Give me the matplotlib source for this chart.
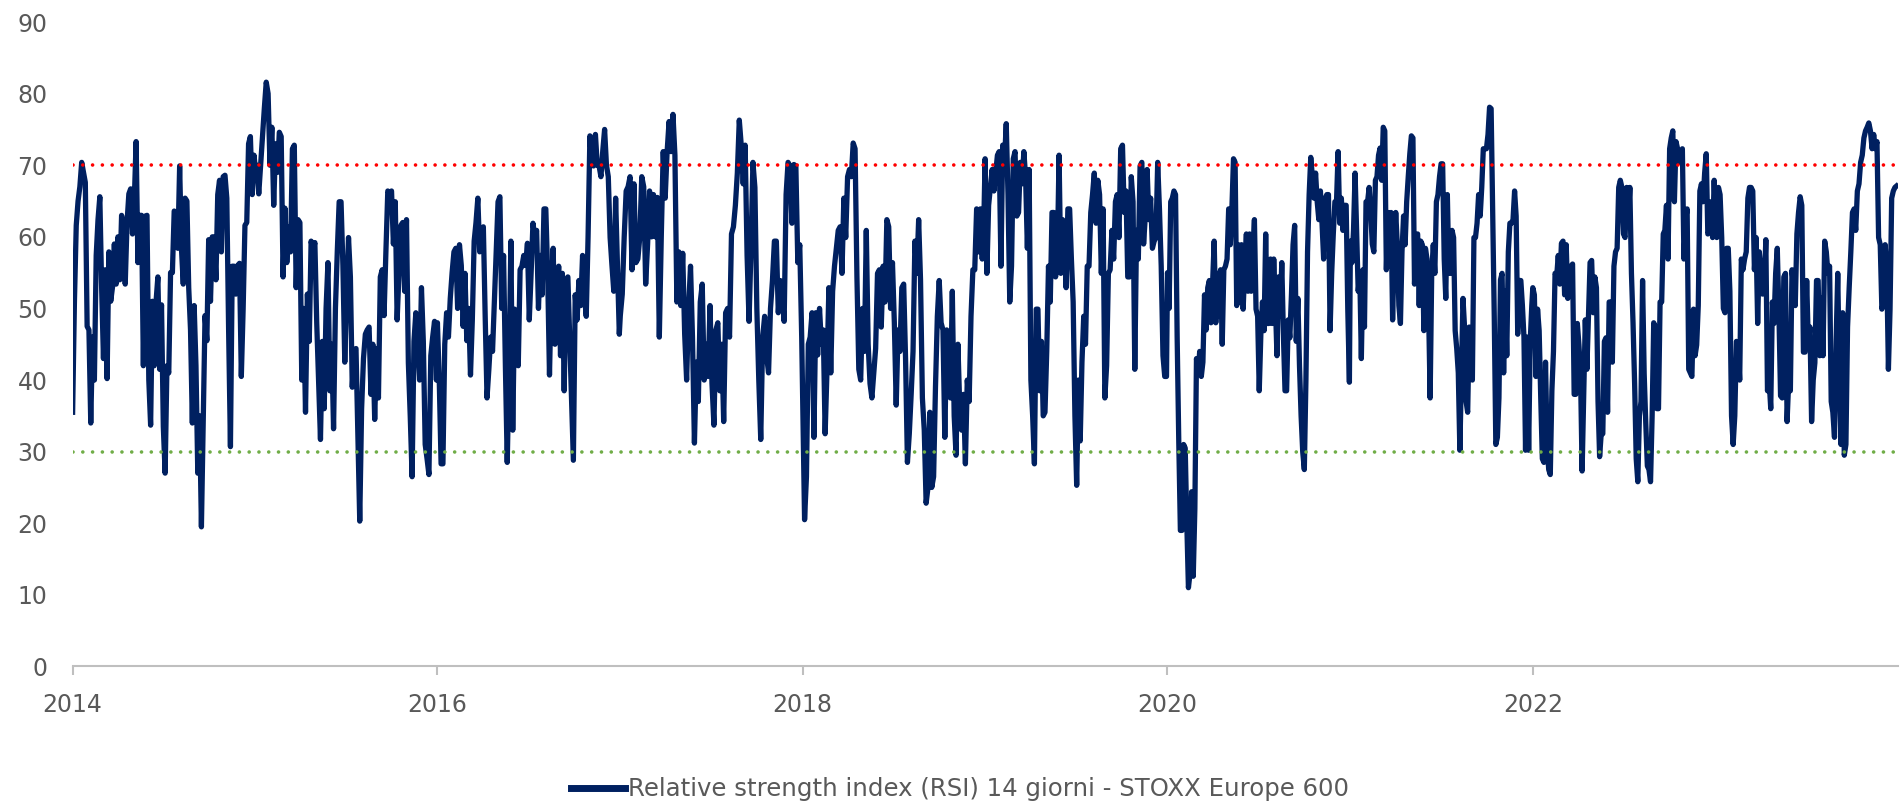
import numpy as np
import pandas as pd
import matplotlib
matplotlib.use('Agg')
import matplotlib.pyplot as plt
import matplotlib.dates as mdates

# RSI 14 giorni, STOXX Europe 600 - one list per calendar year
rsi_2014 = [35.5, 51, 61.6, 65, 67, 70.4, 69, 67.6, 47.5, 47, 34, 46, 40, 57.4, 62.4, 65.6, 52.9, 43, 55.4, 40.2,
            57.9, 51, 53, 59, 53.4, 60, 54, 63, 61.2, 53.4, 62, 66, 66.7, 60.4, 65, 73.3, 56.4, 63, 63, 42,
            62.9, 63, 40, 33.7, 51, 42, 51, 54.4, 41.5, 50.5, 33.5, 27, 42, 41, 55, 55, 63.6, 63.4, 58.4, 69.9,
            58.4, 53.4, 65.4, 65, 52.9, 47, 34, 50.4, 42, 27, 35, 19.5, 34, 49, 45.5, 59.6, 51, 60, 60, 54,
            65.9, 67.9, 57.9, 68.4, 68.6, 65.4, 47, 30.7, 55.9, 55.9, 52, 56, 56.3, 40.5, 49.9, 61.6, 62, 73, 74,
            65.9, 71.4]
rsi_2015 = [70, 70, 66, 70, 74, 78, 81.6, 80, 70, 75.3, 64.4, 73, 69, 74.6, 74, 54.4, 64, 56.4, 61.4, 57.9,
            72.3, 72.8, 52.9, 62.4, 62, 40, 50, 35.5, 52, 45.4, 59.4, 58, 59.2, 48, 40, 31.7, 45.4, 36, 50, 56.4,
            38.5, 45, 33.2, 50, 58, 64.9, 64.9, 56, 42.5, 52, 59.9, 54.4, 39, 44, 44.4, 32, 20.3, 36, 43, 46.4,
            47, 47.4, 38, 45, 34.5, 44.4, 37.5, 54.4, 55.4, 49, 58, 66.4, 66, 66.4, 59, 64.9, 48.4, 55, 61.6, 62,
            52.4, 62.4, 42.4, 35, 26.5, 45.4, 49.4, 45, 40, 52.9, 45.4, 31, 29, 26.8, 43.4, 46, 48.2, 40]
rsi_2016 = [48, 40, 28.3, 28.3, 45, 49.4, 46, 51.4, 55, 57.9, 58.4, 50, 58.9, 56, 47.5, 54.9, 45.5, 50, 40.7, 48.4,
            59.4, 62, 65.4, 57.9, 60, 61.4, 48.9, 37.5, 41.5, 46, 44, 50.9, 58, 64.9, 65.6, 50, 57.4, 42, 28.5, 41.5,
            59.4, 33, 49.9, 46, 42, 55.4, 55.9, 57.4, 56, 59.1, 48.4, 54.9, 61.9, 60, 60.9, 50, 57.4, 51.9, 63.9, 63.9,
            54.9, 40.7, 52.9, 58.4, 45, 50, 55.9, 43.4, 54.9, 38.5, 54, 54.4, 46, 38, 28.8, 51.9, 48.4, 53.9, 50.4, 57.4,
            52, 48.9, 60, 74.1, 70, 69.9, 74.3, 70, 69.9, 68.4, 72, 75, 70, 68.4, 59.9, 56, 52.4, 65.4, 56, 46.4]
rsi_2017 = [49, 52, 60, 66.4, 67, 68.4, 55.4, 67.4, 56.4, 56.9, 60, 68.4, 67, 53.4, 59, 66.4, 60, 65.9, 60, 65.5,
            46, 60, 71.9, 65.4, 71.9, 76.1, 71.9, 77.1, 71.4, 50.9, 57.9, 50.4, 57.7, 46.4, 40, 50, 55.9, 46, 31.2, 42.5,
            37, 50.9, 53.4, 40, 45, 40.5, 50.4, 39.5, 33.7, 47, 48, 38.5, 45, 34.2, 49.4, 50, 46, 60.4, 61.4, 64.4,
            68.9, 76.3, 72.8, 67.4, 72.8, 57.4, 48.2, 58.4, 70.4, 66.9, 50, 40, 31.7, 46, 48.9, 43.4, 41, 50, 53.9, 59.4,
            59.4, 49.4, 53.9, 52, 48.2, 65.9, 70.4, 69.9, 61.9, 70.1, 69.9, 56.4, 58.9, 46]
rsi_2018 = [37, 20.5, 26.5, 45, 46, 49.4, 32, 49.4, 43.5, 50, 45, 47, 32.5, 41.5, 52.9, 41, 52.4, 55.9, 58.4, 60.9,
            61.4, 54.9, 65.4, 59.9, 68.4, 69.4, 68.4, 73.1, 72.3, 54.4, 41.5, 40, 50, 44, 60.9, 45, 39.5, 37.5, 41, 44.4,
            54.9, 55.4, 47.4, 55.9, 50.9, 62.4, 61.4, 50, 56.4, 48, 36.5, 47, 44, 52.9, 53.4, 43, 28.5, 32.5, 38, 44,
            59.4, 54.9, 62.4, 54, 37.5, 33, 22.8, 25, 35.5, 25, 26.5, 39, 48.9, 53.9, 48, 47, 32, 47, 41, 37.5,
            52.4, 35, 29.5, 45, 36, 33, 38, 28.3, 40, 37, 48.9, 55.4, 55.4, 63.9, 57.9, 63.9, 56.9, 63.9]
rsi_2019 = [70.9, 54.9, 64.4, 66.9, 69.4, 66.4, 68.9, 71.4, 71.9, 55.9, 72.8, 70.4, 75.8, 65.9, 50.9, 55.9, 70.9, 71.9,
            62.9, 63.4, 70.4, 67.4, 71.9, 68.4, 58.4, 69.4, 40, 35, 28.3, 49.9, 49.9, 38.5, 45.4, 35, 35.5, 44, 55.9,
            50.9, 63.4, 63.4, 54.4, 56.9, 71.4, 54.9, 62.4, 59.4, 52.9, 63.9, 63.9, 56.9, 50.9, 35, 25.3, 40, 31.5, 42.5,
            48.9, 45, 55.9, 55.9, 63.4, 65.9, 68.9, 61.9, 67.9, 65.9, 54.9, 63.9, 37.5, 42, 54.9, 55.4, 60.9, 56.9, 64.9,
            65.9, 59.9, 72.3, 72.8, 63.4, 66.4, 54.4, 54.4, 68.4, 64.9, 41.5, 60.9, 56.9, 69.9, 70.4, 59, 63, 69.4, 62.4,
            65.4, 58.4, 59.4, 59.9, 70.4, 63.9, 55.9, 43.4, 40.5, 40.5]
rsi_2020 = [55, 50, 64.9, 65.4, 66.4, 65.9, 46, 31.5, 19, 19, 31, 30.5, 20, 11, 13, 24.4, 12.6, 22, 43, 41,
            44, 40.5, 42.5, 51.9, 47, 52.9, 53.9, 48, 53.4, 59.4, 48, 54.9, 48.9, 55.4, 45, 55.4, 55.9, 56.9, 63.9, 58.9,
            63.9, 70.9, 70.4, 50.4, 58.9, 50.9, 58.9, 49.9, 55.9, 60.4, 52.4, 60.4, 52.4, 57.9, 62.4, 49.9, 48.9, 38.5,
            46.4, 50.9, 46.9, 60.4, 47.9, 47.9, 56.9, 47.9, 56.9, 50.9, 43.4, 54.4, 48.9, 56.4, 46.4, 38.5, 38.5, 48.4,
            45.9, 51.9, 58.9, 61.6, 45.4, 51.4, 42, 35, 30, 27.5, 40, 57.9, 65.9, 71.1, 68.4, 65.4, 68.9, 64.9, 62.4,
            66.4, 61.9, 56.9, 65.4, 65.9, 65.9, 46.9, 54.9, 60.4, 64.9, 64.9, 71.9, 61.9, 65.4, 60.9, 64.4, 64.4, 49.9,
            39.7]
rsi_2021 = [59.4, 56.4, 60.9, 68.9, 60.9, 52.4, 54.9, 43, 55.4, 47.4, 64.9, 64.9, 66.9, 63.4, 59, 57.9, 67.9, 68.4,
            71.4, 72.4, 67.9, 75.3, 74.8, 55.4, 63.4, 55.9, 63.4, 48.4, 57.9, 63.4, 58.9, 50.4, 47.9, 57.9, 62.9, 58.9,
            64.9, 68.4, 71.6, 74.1, 73.8, 53.4, 59.9, 60.4, 50.4, 59.4, 58.9, 46.9, 58.4, 56.9, 49.9, 37.5, 54.9, 58.9,
            54.9, 64.9, 65.9, 68.4, 70.2, 70.2, 56.9, 51.4, 65.9, 54.9, 54.9, 60.9, 59.9, 46.9, 44.4, 41, 30.2, 40.5,
            51.4, 47.4, 37, 35.5, 47.4, 46.4, 40, 59.9, 59.9, 61.9, 65.9, 62.9, 66.9, 72.3, 72.3, 72.3, 74.3, 78.1,
            77.9, 63.4, 48.9, 31, 32, 37.5, 54, 54.9, 41, 52.4, 43.4, 57.9, 61.9, 61.9, 62.4, 66.4, 62.9, 46.4, 53.9,
            53.9, 50.4, 46, 30.2, 46, 30.2, 45.4, 50.4]
rsi_2022 = [52.9, 51.9, 40.5, 49.9, 46.9, 37.5, 29, 28.5, 42.5, 31, 27.5, 26.8, 38.5, 44, 54.9, 54.4, 57.4, 53.4,
            59.1, 59.4, 51.9, 58.9, 51.4, 55.4, 55.9, 56.2, 38, 38, 47.9, 44.9, 41, 27.3, 37.5, 48.4, 41.5, 48.9, 56.4,
            56.7, 49.4, 54.4, 52.9, 37, 29.3, 32.5, 32.5, 45.4, 45.9, 35.5, 50.9, 50.9, 42.5, 55.9, 57.9, 58.4, 66.9,
            67.9, 66.9, 60.4, 59.9, 66.9, 62.4, 66.9, 54.9, 48, 39.5, 29, 25.8, 35, 37, 53.9, 40.9, 34, 28, 27.5, 25.8,
            35, 48, 47.4, 36, 36, 50.9, 50.9, 60.4, 60.9, 64.4, 56.9, 72.3, 73.8, 74.8, 64.9, 73.3, 72.3, 70.4, 71.4,
            72.3, 56.9, 62.4, 63.9, 41.5, 41, 40.5, 49.9, 43.4, 44.9, 50.4, 66.4, 67.4, 64.9, 68.9, 71.6, 60.4, 60.9,
            64.9, 59.9, 67.9]
rsi_2023 = [63.9, 59.9, 66.9, 65.9, 59.9, 50, 49.4, 58.4, 58.4, 52.4, 35, 31, 35, 45.4, 44.9, 40, 56.9, 55.4, 56.9,
            57.9, 65.4, 66.9, 66.9, 66.4, 55.4, 59.9, 47.9, 57.9, 55.4, 52, 52.9, 59.6, 38.5, 40, 36, 50.9, 47.9, 54.9,
            58.4, 49.4, 37.8, 37.5, 54.4, 54.9, 34.2, 40, 38.5, 55.4, 52.9, 50.4, 60.4, 63.4, 65.6, 64.4, 43.9, 43.9,
            53.9, 45, 47.4, 34.2, 40, 42.4, 53.9, 53.9, 43.4, 51.4, 43.4, 59.4, 57.9, 54.9, 55.9, 37, 35.5, 32, 45.4,
            54.9, 40.5, 31, 49.4, 29.5, 31, 47.4, 52.9, 57.9, 63.4, 63.9, 60.9, 66.4, 67.4, 70.4, 71.4, 73.8, 74.8,
            75.3, 75.9, 74.8, 72.3, 74.3, 72.3, 73.3, 59.9, 58.9, 49.9, 50.9, 58.9, 55.4, 41.5, 49.9, 65.4, 66.4, 66.9,
            67.1]

years = [2014, 2015, 2016, 2017, 2018, 2019, 2020, 2021, 2022, 2023]
yearly = [rsi_2014, rsi_2015, rsi_2016, rsi_2017, rsi_2018, rsi_2019, rsi_2020, rsi_2021, rsi_2022, rsi_2023]

overbought = 70
oversold = 30
label = 'Relative strength index (RSI) 14 giorni - STOXX Europe 600'

# spread each year's readings evenly across that year
dates = []
values = []
for year, vals in zip(years, yearly):
    dates.extend(pd.date_range(f'{year}-01-01', f'{year}-12-30', periods=len(vals)))
    values.extend(vals)

navy = '#002060'
grey = '#595959'

fig = plt.figure(figsize=(19.01, 8.06), dpi=100)
ax = fig.add_axes([0.0382, 0.1731, 0.9600, 0.7996])

line, = ax.plot(dates, values, color=navy, lw=3.8, solid_joinstyle='round', zorder=2)
ax.axhline(overbought, color='#FF0000', lw=2.6, linestyle=(0, (0.01, 2.7)),
           dash_capstyle='round', zorder=3)
ax.axhline(oversold, color='#70AD47', lw=2.6, linestyle=(0, (0.01, 2.7)),
           dash_capstyle='round', zorder=3)

ax.set_xlim(pd.Timestamp('2014-01-01'), pd.Timestamp('2024-01-01'))
ax.set_ylim(0, 90)
ax.set_yticks(np.arange(0, 91, 10))
ax.set_xticks([pd.Timestamp(f'{y}-01-01') for y in range(2014, 2023, 2)])
ax.xaxis.set_major_formatter(mdates.DateFormatter('%Y'))

for side in ['top', 'right', 'left']:
    ax.spines[side].set_visible(False)
ax.spines['bottom'].set_color('#BFBFBF')
ax.spines['bottom'].set_linewidth(1.5)

ax.tick_params(axis='y', length=0, pad=18, labelsize=17, labelcolor=grey)
ax.tick_params(axis='x', length=6.5, width=1.5, color='#BFBFBF', pad=12.5,
               labelsize=17, labelcolor=grey)

leg = fig.legend([line], [label], loc='center', bbox_to_anchor=(0.505, 0.021),
                 frameon=False, handlelength=2.2, handletextpad=0.15,
                 prop={'family': 'DejaVu Sans', 'size': 17.6})
leg.get_lines()[0].set_linewidth(5)
for t in leg.get_texts():
    t.set_color(grey)

fig.savefig('out.png', dpi=100)
